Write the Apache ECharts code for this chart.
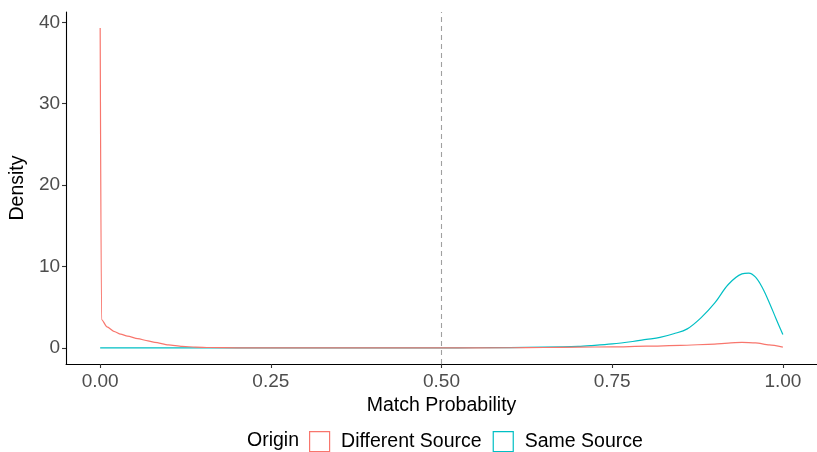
<!DOCTYPE html>
<html>
<head>
<meta charset="utf-8">
<script src="https://cdn.jsdelivr.net/npm/echarts@6/dist/echarts.min.js"></script>
<style>
  html, body { margin: 0; padding: 0; background: #fff; }
  #chart { width: 817px; height: 452px; }
</style>
</head>
<body>
<div id="chart"></div>
<script>
// Density estimates of match probability, by origin
const diffX = [0, 0.002, 0.01, 0.02, 0.03, 0.04, 0.055, 0.07, 0.08, 0.1, 0.12, 0.14, 0.16, 0.2, 0.25, 0.3, 0.4, 0.5, 0.6, 0.65, 0.7, 0.75, 0.8, 0.85, 0.9, 0.92, 0.94, 0.96, 0.98, 1.0];
const diffY = [39.3, 3.5, 2.6, 2.05, 1.7, 1.45, 1.15, 0.88, 0.7, 0.38, 0.2, 0.11, 0.06, 0.02, 0.01, 0.01, 0.01, 0.01, 0.03, 0.06, 0.1, 0.14, 0.22, 0.32, 0.48, 0.6, 0.7, 0.62, 0.38, 0.1];

const sameX = [0, 0.1, 0.2, 0.3, 0.4, 0.5, 0.55, 0.6, 0.65, 0.7, 0.72, 0.75, 0.78, 0.8, 0.82, 0.84, 0.86, 0.88, 0.9, 0.92, 0.94, 0.95, 0.96, 0.97, 0.98, 0.99, 1.0];
const sameY = [0.02, 0.02, 0.02, 0.02, 0.02, 0.02, 0.03, 0.05, 0.1, 0.2, 0.3, 0.5, 0.8, 1.05, 1.3, 1.75, 2.35, 3.7, 5.5, 7.8, 9.1, 9.2, 8.7, 7.4, 5.6, 3.6, 1.65];

const seriesNames = ['Different Source', 'Same Source'];
const seriesColors = ['#F8766D', '#00BFC4'];
const xTicks = [0, 0.25, 0.5, 0.75, 1];
const yTicks = [0, 10, 20, 30, 40];
const threshold = 0.5;

const zip = (xs, ys) => xs.map((x, i) => [x, ys[i]]);

const chart = echarts.init(document.getElementById('chart'), null, { renderer: 'canvas' });

const axisLine = { show: true, onZero: false, lineStyle: { color: '#000', width: 1.1 } };
const tickStyle = { show: true, length: 4, lineStyle: { color: '#333', width: 1.1 } };
const tickText = { color: '#4D4D4D', fontSize: 19, fontFamily: 'Liberation Sans, Arial, sans-serif' };
const titleText = { color: '#000', fontSize: 19.5, fontFamily: 'Liberation Sans, Arial, sans-serif' };

chart.setOption({
  animation: false,
  backgroundColor: '#fff',
  title: {
    text: 'Origin',
    left: 247,
    top: 431,
    padding: 0,
    textStyle: Object.assign({ fontWeight: 'normal' }, titleText)
  },
  legend: {
    left: 309,
    top: 431,
    padding: 0,
    itemWidth: 21,
    itemHeight: 20,
    itemGap: 11,
    icon: 'path://M0,0H20V20H0Z',
    // small spacer between each key square and its label
    formatter: name => '{gap|}{lbl|' + name + '}',
    textStyle: Object.assign({
      rich: {
        gap: { width: 6 },
        lbl: titleText
      }
    }, titleText),
    lineStyle: { opacity: 0 },
    data: seriesNames.map((n, i) => ({
      name: n,
      itemStyle: { color: '#fff', borderColor: seriesColors[i], borderWidth: 1.2 }
    }))
  },
  grid: { left: 61, right: -10, top: 12, bottom: 88, containLabel: false },
  xAxis: {
    type: 'value',
    min: -0.05,
    max: 1.05,
    name: 'Match Probability',
    nameLocation: 'middle',
    nameGap: 28,
    nameTextStyle: titleText,
    axisLine: axisLine,
    axisTick: Object.assign({ customValues: xTicks }, tickStyle),
    axisLabel: Object.assign({ customValues: xTicks, margin: 8, formatter: v => v.toFixed(2) }, tickText),
    splitLine: { show: false }
  },
  yAxis: {
    type: 'value',
    min: -1.965,
    max: 41.265,
    name: 'Density',
    nameLocation: 'middle',
    nameGap: 30,
    nameTextStyle: titleText,
    axisLine: axisLine,
    axisTick: Object.assign({ customValues: yTicks }, tickStyle),
    axisLabel: Object.assign({ customValues: yTicks, margin: 6 }, tickText),
    splitLine: { show: false }
  },
  series: [
    {
      name: seriesNames[0],
      type: 'line',
      data: zip(diffX, diffY),
      showSymbol: false,
      smooth: 0.25,
      smoothMonotone: 'x',
      color: seriesColors[0],
      lineStyle: { width: 1.2, color: seriesColors[0] },
      z: 3,
      markLine: {
        silent: true,
        symbol: ['none', 'none'],
        label: { show: false },
        lineStyle: { type: [5, 4], color: '#A0A0A0', width: 1.1 },
        data: [{ xAxis: threshold }]
      }
    },
    {
      name: seriesNames[1],
      type: 'line',
      data: zip(sameX, sameY),
      showSymbol: false,
      smooth: 0.35,
      color: seriesColors[1],
      lineStyle: { width: 1.2, color: seriesColors[1] },
      z: 2
    }
  ]
});
</script>
</body>
</html>
